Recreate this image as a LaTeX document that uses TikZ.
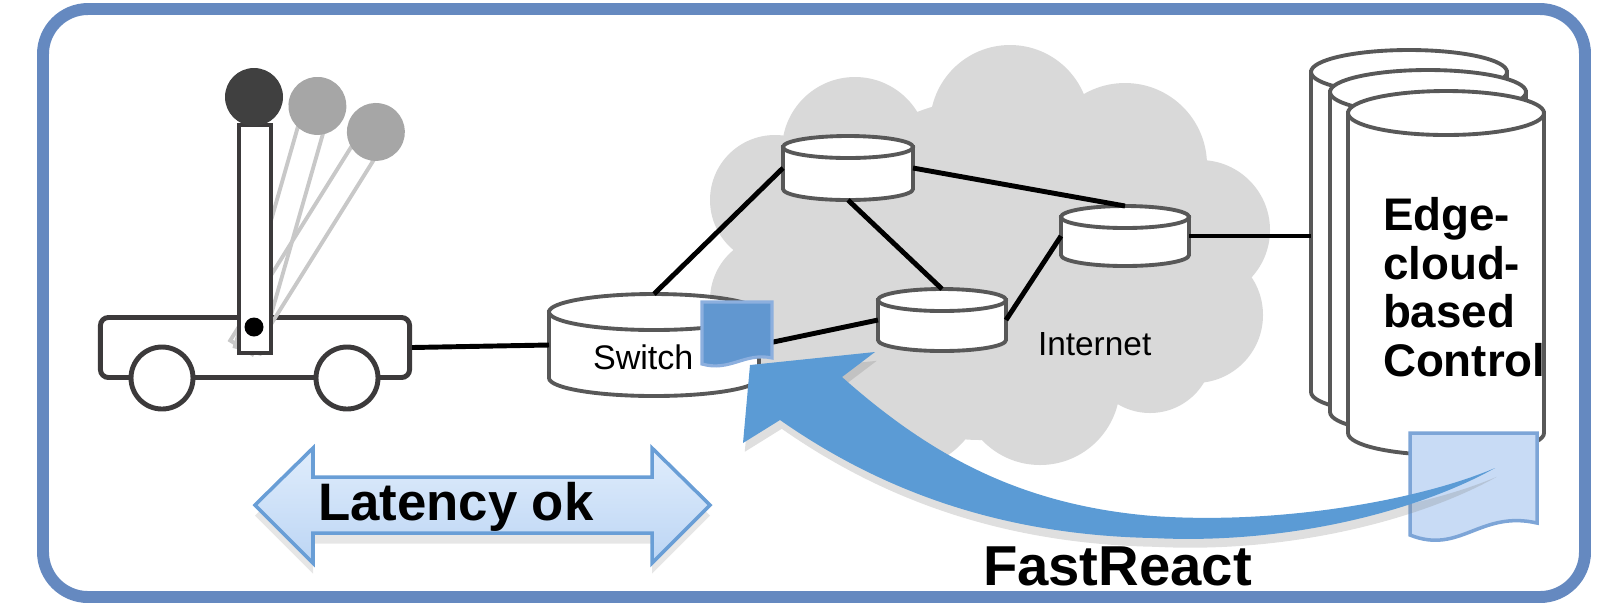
\documentclass[tikz,border=0pt]{standalone}
\usepackage{fontspec}
\setmainfont{Liberation Sans}
\usetikzlibrary{shadows}

\definecolor{frameblue}{RGB}{101,137,192}
\definecolor{reactblue}{RGB}{91,155,213}
\definecolor{memoblue}{RGB}{97,151,208}
\definecolor{memoedge}{RGB}{140,175,222}
\definecolor{memolight}{RGB}{200,219,245}
\definecolor{memolightedge}{RGB}{125,165,215}
\definecolor{cloudgray}{RGB}{217,217,217}
\definecolor{drumgray}{RGB}{88,88,88}
\definecolor{cartgray}{RGB}{60,58,59}
\definecolor{rodgray}{RGB}{200,200,200}
\definecolor{ballgray}{RGB}{166,166,166}
\definecolor{balldark}{RGB}{64,64,64}
\definecolor{lattop}{RGB}{224,237,252}
\definecolor{latbot}{RGB}{188,213,244}
\definecolor{latedge}{RGB}{105,158,214}

% a drum (cylinder) with a named box around it: name, x, y, width, height, cap
\newcommand\netdrum[6]{%
  \filldraw[drumline] (#2-#4/2,#3-#5/2+#6) -- (#2-#4/2,#3+#5/2-#6)
    arc[start angle=180, end angle=0, x radius=#4/2, y radius=#6]
    -- (#2+#4/2,#3-#5/2+#6) -- cycle;
  \filldraw[drumline] (#2,#3-#5/2+#6) ellipse[x radius=#4/2, y radius=#6];
  \node[drumbox, minimum width=#4*0.01cm, minimum height=#5*0.01cm] (#1) at (#2,#3) {};
}

\begin{document}
\begin{tikzpicture}[x=0.01cm, y=-0.01cm,
    link/.style={line width=1.4pt, black},
    drumline/.style={draw=drumgray, line width=1.1pt, fill=white},
    drumbox/.style={rectangle, inner sep=0pt, outer sep=0pt},
    cartline/.style={draw=cartgray, line width=1.4pt},
    txt/.style={inner sep=0pt, outer sep=0pt}]
\useasboundingbox (0,0) rectangle (1615,605);

\draw[frameblue, line width=3.4pt, rounded corners=0.45cm] (43,9) rectangle (1585,597);

% internet cloud
\fill[cloudgray] (1010,125) circle[radius=80] (855,150) circle[radius=73]
  (775,200) circle[radius=65] (1125,165) circle[radius=82]
  (1200,230) circle[radius=70] (1195,315) circle[radius=68]
  (1150,350) circle[radius=63] (1040,385) circle[radius=80]
  (900,385) circle[radius=85] (775,300) circle[radius=65]
  (800,360) circle[radius=60] (980,270) circle[radius=170];

% cart with pendulum
\node[cartline, fill=white, rounded corners=0.08cm, minimum width=3.09cm,
  minimum height=0.6cm, inner sep=0pt] (cart) at (255,347.5) {};
\foreach \wx in {162,347}
  \draw[cartline, fill=white] (\wx,378) circle[radius=31];
\foreach \ang in {16,32} {
  \draw[rodgray, line width=1.1pt, shift={(254,327)}, rotate=-\ang] (-13,24) rectangle (13,-205);
  \fill[ballgray, shift={(254,327)}, rotate=-\ang] (0,-230) circle[radius=29];
}
\draw[cartline, fill=white] (239,125) rectangle (271,353);
\fill[balldark] (254,97) circle[radius=29];
\fill[black] (254,327) circle[radius=9.5];

% switch, routers and edge servers
\netdrum{sw}{654}{345}{210}{102}{18}
\netdrum{nA}{848}{168}{130}{64}{11}
\netdrum{nB}{1125}{236}{128}{60}{11}
\netdrum{nC}{942}{320}{128}{62}{11}
\netdrum{srv1}{1409}{232}{196}{364}{22}
\netdrum{srv2}{1428}{252}{196}{364}{22}
\netdrum{srv3}{1446}{273}{196}{364}{22}

\draw[link] (cart.east) -- (sw.west);
\draw[link] (sw.north) -- (nA.west);
\draw[link] (nA.east) -- (nB.north);
\draw[link] (nA.south) -- (nC.north);
\draw[link] (nC.east) -- (nB.west);
\draw[link] (sw.east) -- (nC.west);
\draw[link] (nB.east) -- (nB.east -| srv1.west);

\node[txt, anchor=base west, font=\fontsize{9.7}{10}\selectfont] (swtxt) at (593,369) {Switch};
\node[txt, anchor=base west, font=\fontsize{9.5}{10}\selectfont] (nettxt) at (1038,355) {Internet};
\node[txt, anchor=north west, align=left, font=\fontsize{13}{13.9}\selectfont\bfseries]
  (ctltxt) at (1383,197) {Edge-\\cloud-\\based\\Control};

% rule sheets
\filldraw[fill=memolight, draw=memolightedge, line width=1pt]
  (1410,433) -- (1537,433) -- (1537,523) .. controls (1480,510) and (1460,555) .. (1410,535) -- cycle;

% FastReact arrow
\fill[reactblue, drop shadow={opacity=0.25, shadow xshift=0.5pt, shadow yshift=-2.5pt}]
  (750,365) -- (875,352) -- (842,377)
  .. controls (930,455) and (1020,505) .. (1153,516)
  .. controls (1280,525) and (1420,500) .. (1495,468)
  .. controls (1420,510) and (1290,545) .. (1153,538)
  .. controls (1000,535) and (880,490) .. (780,420)
  -- (743,443) -- cycle;

\filldraw[fill=memoblue, draw=memoedge, line width=0.9pt]
  (702,302) -- (772,302) -- (772,358) .. controls (745,352) and (730,372) .. (702,364) -- cycle;

% latency arrow
\draw[latedge, line width=1pt, top color=lattop, bottom color=latbot,
  drop shadow={opacity=0.2, shadow xshift=0pt, shadow yshift=-3pt}]
  (255,505) -- (313,448) -- (313,477) -- (652,477) -- (652,448) -- (710,505)
  -- (652,563) -- (652,533) -- (313,533) -- (313,563) -- cycle;
\node[txt, anchor=base west, font=\fontsize{15}{15}\selectfont\bfseries] (lattxt) at (318,520) {Latency ok};

\node[txt, anchor=base west, font=\fontsize{16}{16}\selectfont\bfseries] (fasttxt) at (983,585) {FastReact};
\end{tikzpicture}
\end{document}
